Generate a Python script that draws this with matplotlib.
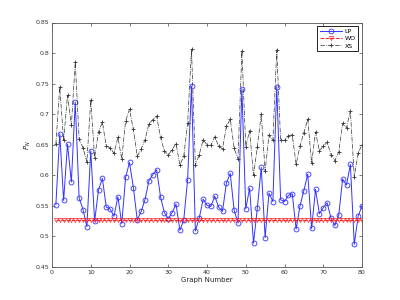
import numpy as np
import matplotlib
matplotlib.use("Agg")
import matplotlib.pyplot as plt

# -----------------------------------------------------------------
# Data
# -----------------------------------------------------------------
graph_number = np.arange(1, 81)

lp = [0.552, 0.668, 0.559, 0.651, 0.589, 0.720, 0.563, 0.544, 0.516, 0.640,
      0.525, 0.576, 0.595, 0.548, 0.545, 0.533, 0.565, 0.521, 0.597, 0.621,
      0.580, 0.527, 0.541, 0.560, 0.591, 0.601, 0.609, 0.565, 0.539, 0.529,
      0.539, 0.553, 0.510, 0.527, 0.593, 0.746, 0.509, 0.530, 0.561, 0.551,
      0.549, 0.566, 0.548, 0.541, 0.587, 0.603, 0.543, 0.522, 0.742, 0.545,
      0.579, 0.489, 0.547, 0.613, 0.498, 0.571, 0.557, 0.745, 0.560, 0.557,
      0.567, 0.570, 0.512, 0.550, 0.575, 0.602, 0.513, 0.577, 0.537, 0.547,
      0.555, 0.530, 0.518, 0.535, 0.594, 0.584, 0.618, 0.487, 0.533, 0.550]

wo = [0.527] * 80

xs = [0.651, 0.744, 0.657, 0.731, 0.682, 0.785, 0.660, 0.645, 0.622, 0.723,
      0.629, 0.671, 0.687, 0.648, 0.645, 0.636, 0.662, 0.627, 0.689, 0.708,
      0.675, 0.631, 0.643, 0.658, 0.684, 0.691, 0.697, 0.662, 0.640, 0.633,
      0.642, 0.652, 0.617, 0.631, 0.685, 0.806, 0.617, 0.634, 0.658, 0.650,
      0.649, 0.663, 0.648, 0.643, 0.680, 0.692, 0.644, 0.627, 0.803, 0.647,
      0.673, 0.600, 0.647, 0.700, 0.607, 0.666, 0.657, 0.805, 0.657, 0.657,
      0.665, 0.666, 0.618, 0.648, 0.670, 0.692, 0.620, 0.671, 0.640, 0.648,
      0.654, 0.634, 0.624, 0.638, 0.685, 0.678, 0.705, 0.598, 0.636, 0.650]

x_ticks = [0, 10, 20, 30, 40, 50, 60, 70, 80]
y_ticks = [0.45, 0.5, 0.55, 0.6, 0.65, 0.7, 0.75, 0.8, 0.85]
y_tick_labels = ['0.45', '0.5', '0.55', '0.6', '0.65', '0.7', '0.75', '0.8', '0.85']

# -----------------------------------------------------------------
# Plot (MATLAB-like look)
# -----------------------------------------------------------------
fig = plt.figure(figsize=(4, 3), dpi=100)
ax = fig.add_axes([0.13, 0.11, 0.775, 0.815])

ax.plot(graph_number, lp, '-o', color='#3333ff', lw=0.7, ms=3.5,
        mfc='none', mew=0.6, label='LP')
ax.plot(graph_number, wo, '--v', color='#ff2020', lw=0.7, ms=3.0,
        mfc='none', mew=0.5, label='WO')
ax.plot(graph_number, xs, '-.+', color='#333333', lw=0.5, ms=3.5,
        mew=0.6, label='XS')

ax.set_xlim(0, 80)
ax.set_ylim(0.45, 0.85)
ax.set_xticks(x_ticks)
ax.set_yticks(y_ticks)
ax.set_yticklabels(y_tick_labels)
ax.tick_params(direction='in', top=True, right=True, labelsize=4.5,
               length=2.5, width=0.5, pad=2, colors='#444444',
               labelcolor='#333333')
for s in ax.spines.values():
    s.set_linewidth(0.6)
    s.set_color('#555555')

ax.set_xlabel('Graph Number', fontsize=5, labelpad=1.5, color='#222222')
ax.set_ylabel('$P_N$', fontsize=5, labelpad=2, color='#222222')

leg = ax.legend(loc='upper right', fontsize=4.5, fancybox=False,
                edgecolor='black', framealpha=1, handlelength=3.5,
                borderpad=0.4, labelspacing=0.3, handletextpad=0.5,
                borderaxespad=0.6)
leg.get_frame().set_linewidth(0.6)

fig.savefig('out.png', dpi=100)
